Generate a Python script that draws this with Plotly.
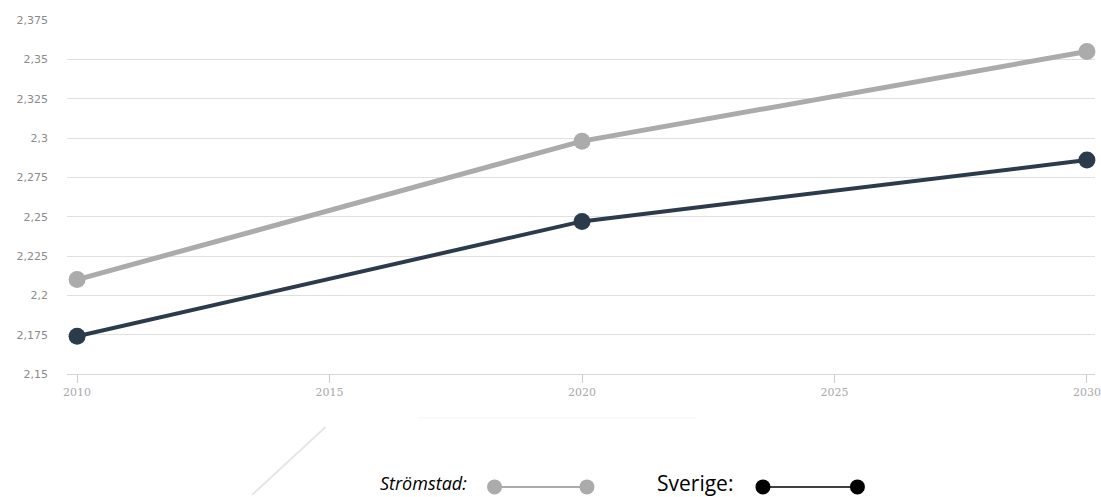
import plotly.graph_objects as go

# Values per year
years = [2010, 2020, 2030]
stromstad = [2.210, 2.298, 2.355]
sverige = [2.174, 2.247, 2.286]

y_ticks = [2.15, 2.175, 2.2, 2.225, 2.25, 2.275, 2.3, 2.325, 2.35, 2.375]
y_tick_text = ["2,15", "2,175", "2,2", "2,225", "2,25", "2,275", "2,3", "2,325", "2,35", "2,375"]
x_ticks = [2010, 2015, 2020, 2025, 2030]

GREY = "#ababab"
DARK = "#2c3b4b"

fig = go.Figure()
fig.add_trace(go.Scatter(
    x=years, y=stromstad, mode="lines+markers", name="Strömstad",
    line=dict(color=GREY, width=5), marker=dict(color=GREY, size=17),
    cliponaxis=False,
))
fig.add_trace(go.Scatter(
    x=years, y=sverige, mode="lines+markers", name="Sverige",
    line=dict(color=DARK, width=4), marker=dict(color=DARK, size=17),
    cliponaxis=False,
))

# Legend below the plot, built from shapes and annotations in paper units
LEG_Y = -0.319
TXT_Y = -0.308


def legend_sample(x0, x1, color, lw):
    fig.add_shape(type="line", xref="paper", yref="paper",
                  x0=x0, y0=LEG_Y, x1=x1, y1=LEG_Y,
                  line=dict(color=color, width=lw))
    for xc in (x0, x1):
        fig.add_shape(type="circle", xref="paper", yref="paper",
                      xsizemode="pixel", ysizemode="pixel",
                      xanchor=xc, yanchor=LEG_Y,
                      x0=-7.5, x1=7.5, y0=-7.5, y1=7.5,
                      fillcolor=color, line=dict(color=color, width=0))


legend_sample(0.4159, 0.5058, GREY, 2)
legend_sample(0.6770, 0.7689, "#000000", 1.5)

fig.add_annotation(xref="paper", yref="paper", x=0.391, y=TXT_Y,
                   text="<i>Strömstad:</i>", showarrow=False, xanchor="right",
                   yanchor="middle",
                   font=dict(family="Open Sans", size=18, color="#000"))
fig.add_annotation(xref="paper", yref="paper", x=0.650, y=TXT_Y,
                   text="Sverige:", showarrow=False, xanchor="right",
                   yanchor="middle",
                   font=dict(family="Open Sans", size=21, color="#000"))

# faint strokes below the axis
fig.add_shape(type="line", xref="paper", yref="paper",
              x0=0.2515, y0=-0.1497, x1=0.1799, y1=-0.3418,
              line=dict(color="#e6e6e6", width=2))
fig.add_shape(type="line", xref="paper", yref="paper",
              x0=0.341, y0=-0.124, x1=0.612, y1=-0.124,
              line=dict(color="#f4f4f4", width=1))

fig.update_layout(
    width=1101, height=497,
    margin=dict(l=67, r=0, t=20, b=123),
    paper_bgcolor="white", plot_bgcolor="white",
    showlegend=False,
    xaxis=dict(
        range=[2009.8, 2030.16], tickvals=x_ticks, ticktext=[str(v) for v in x_ticks],
        showgrid=False, zeroline=False, showline=True, linecolor="#d6d6d6", linewidth=1,
        ticks="outside", ticklen=8, tickcolor="#cccccc",
        ticklabeloverflow="allow",
        tickfont=dict(family="DejaVu Serif", size=11, color="#a8a8a8"),
    ),
    yaxis=dict(
        range=[2.15, 2.375], tickvals=y_ticks, ticktext=y_tick_text,
        showgrid=True, gridcolor="#e0e0e0", gridwidth=1, zeroline=False,
        ticks="", ticklabelstandoff=18,
        tickfont=dict(family="DejaVu Sans", size=11, color="#8a8a8a"),
    ),
)

fig.write_html("out.html")
